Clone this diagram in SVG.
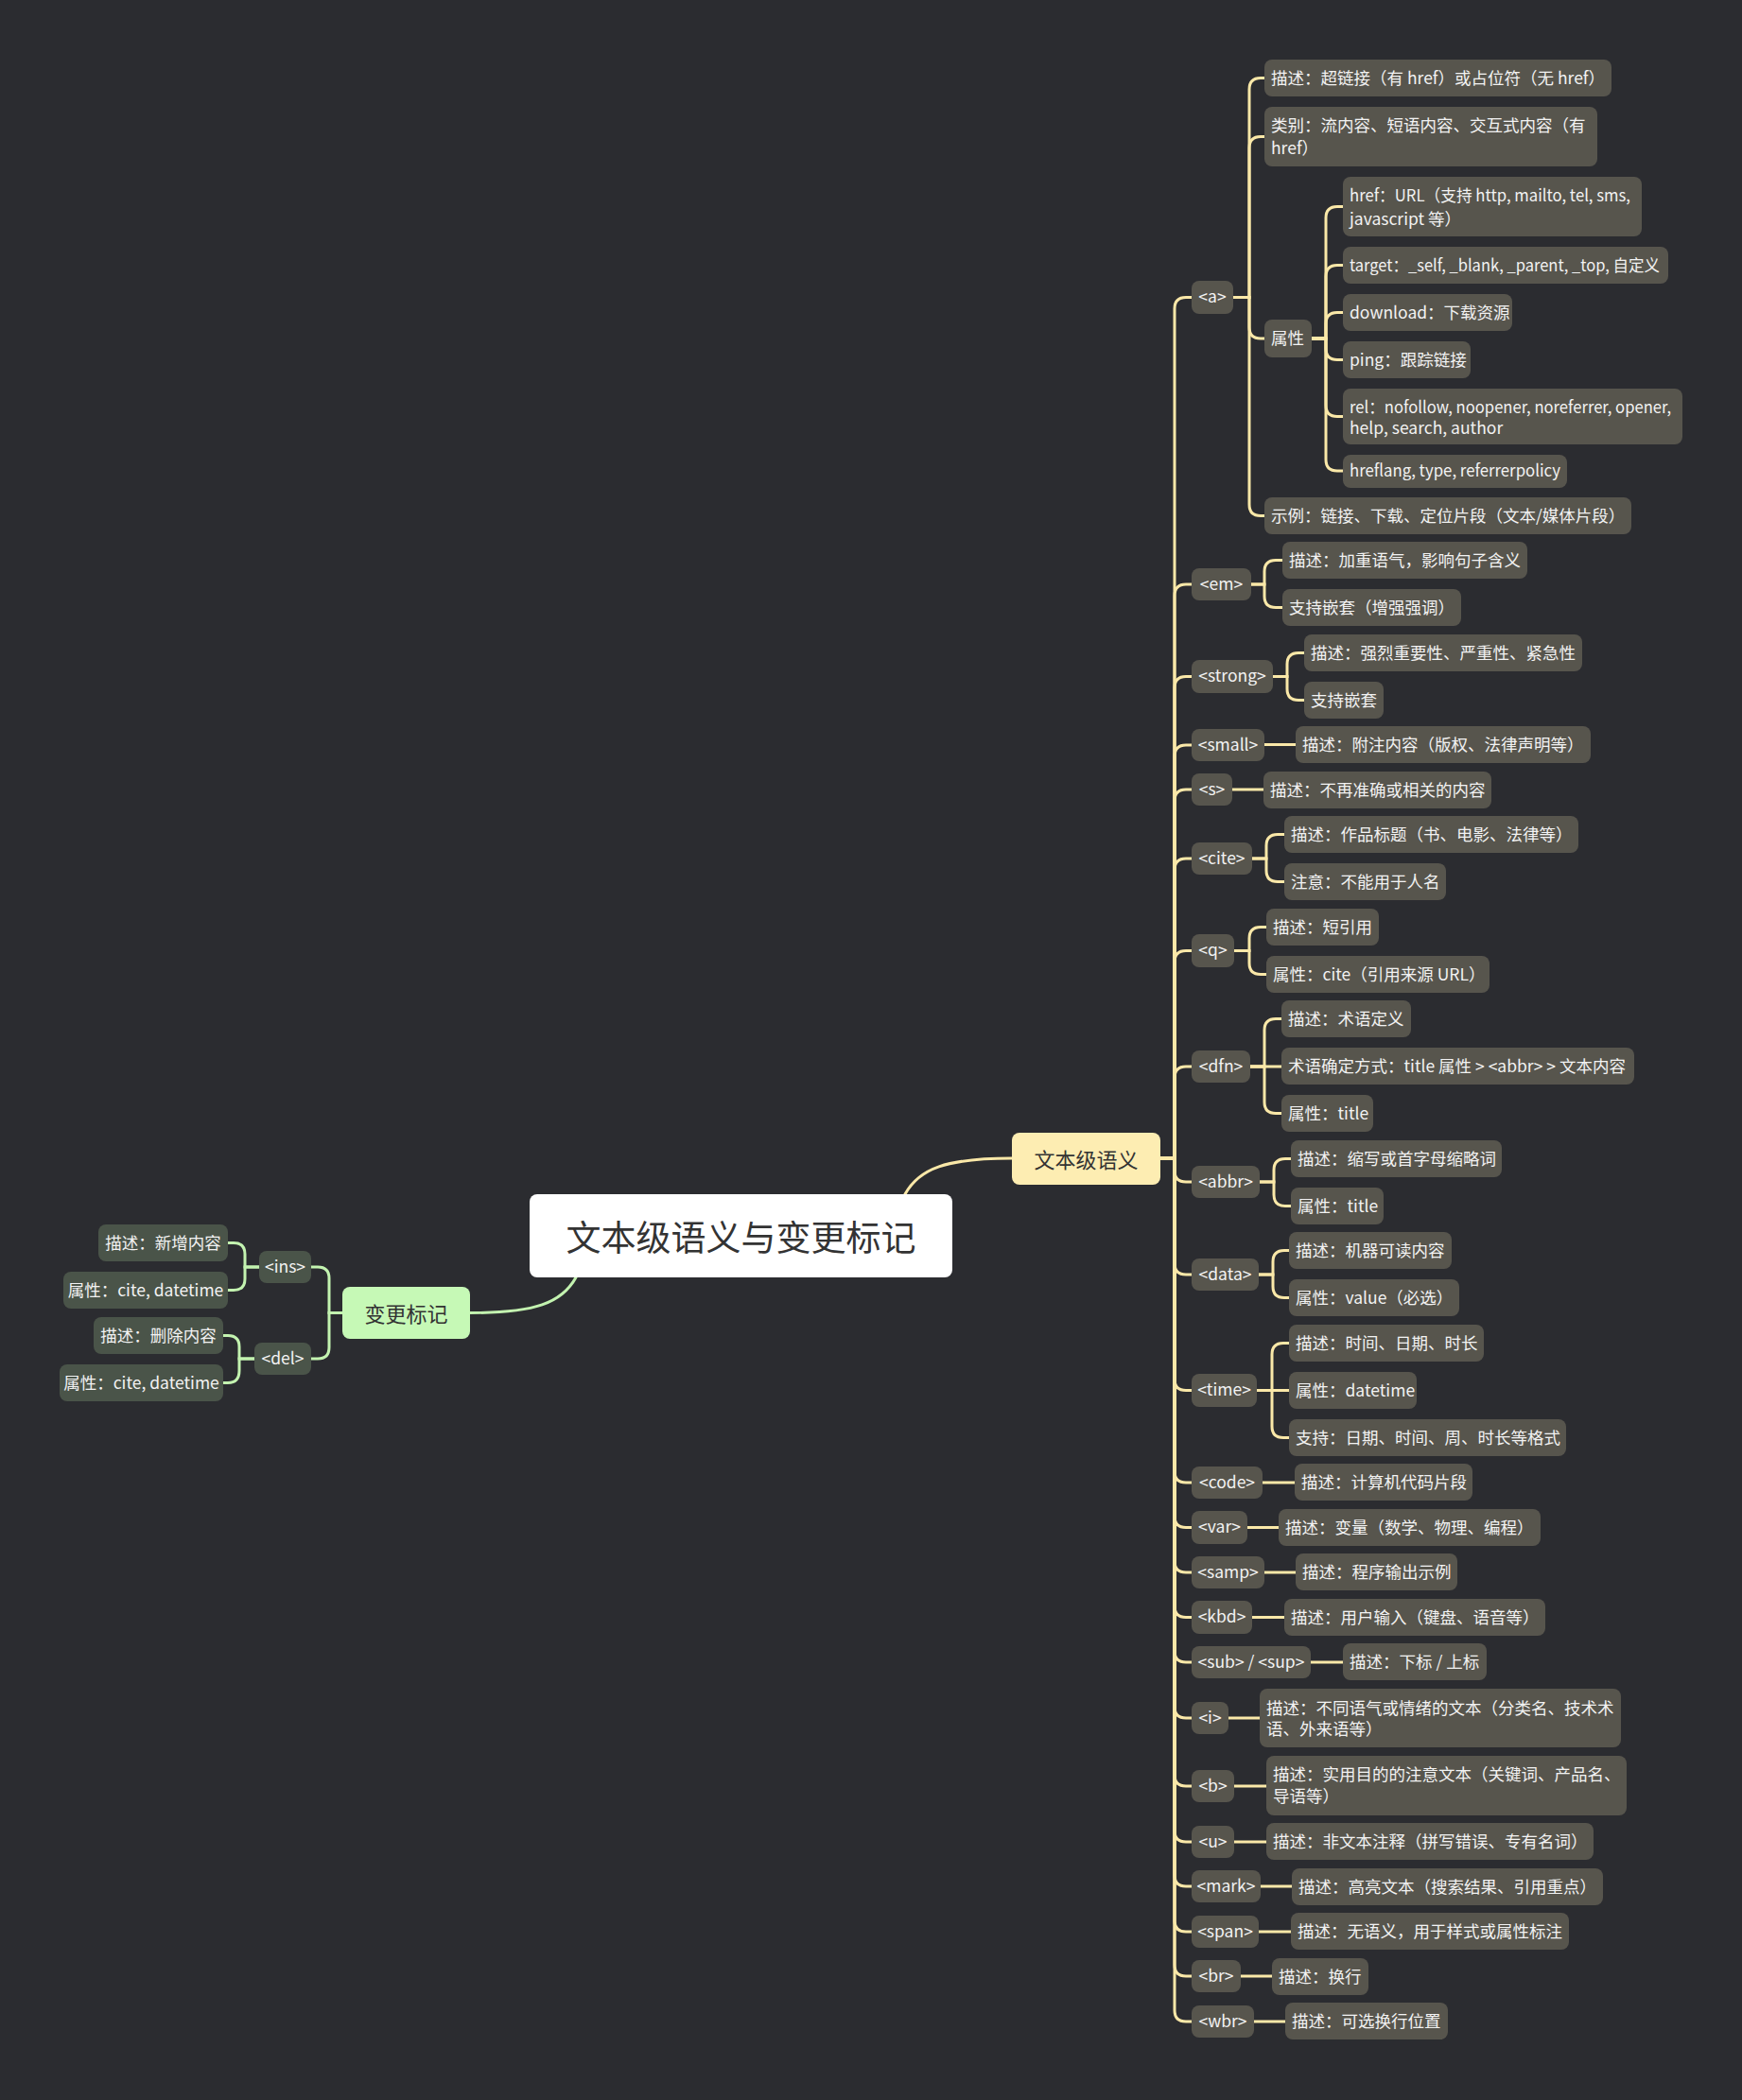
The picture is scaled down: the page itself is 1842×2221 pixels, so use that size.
<svg xmlns="http://www.w3.org/2000/svg" width="1842" height="2221" viewBox="0 0 1842 2221">
<style>
text{font-family:"Noto Sans CJK SC","Noto Sans",sans-serif;}
.n{fill:#57554d;}
.ln{fill:#4a5449;}
.t{fill:#f2f2f2;font-size:17.5px;}
.tg{fill:#f2f2f2;font-size:17.5px;text-anchor:middle;}
.lt{fill:#f2f2f2;font-size:17.5px;text-anchor:middle;}
.cy{fill:none;stroke:#fae8a8;stroke-width:3;stroke-linecap:round;}
.cg{fill:none;stroke:#c3f3b0;stroke-width:3;stroke-linecap:round;}
</style>
<rect x="0" y="0" width="1842" height="2221" fill="#2b2c30"/>
<g id="connectors">
<path class="cy" d="M957 1263 C972 1236 1000 1225 1070 1225" stroke-width="3.5"/>
<path class="cg" d="M609 1351 C594 1378 566 1388.5 497 1388.5" stroke-width="3.5"/>
<path class="cy" d="M1227 1225 H1242 V326.5 Q1242 314.5 1254 314.5 H1260"/>
<path class="cy" d="M1227 1225 H1242 V630 Q1242 618 1254 618 H1260"/>
<path class="cy" d="M1227 1225 H1242 V727.5 Q1242 715.5 1254 715.5 H1260"/>
<path class="cy" d="M1227 1225 H1242 V800 Q1242 788 1254 788 H1260"/>
<path class="cy" d="M1227 1225 H1242 V847 Q1242 835 1254 835 H1260"/>
<path class="cy" d="M1227 1225 H1242 V920 Q1242 908 1254 908 H1260"/>
<path class="cy" d="M1227 1225 H1242 V1017.5 Q1242 1005.5 1254 1005.5 H1260"/>
<path class="cy" d="M1227 1225 H1242 V1140 Q1242 1128 1254 1128 H1260"/>
<path class="cy" d="M1227 1225 H1242 V1238 Q1242 1250 1254 1250 H1260"/>
<path class="cy" d="M1227 1225 H1242 V1336 Q1242 1348 1254 1348 H1260"/>
<path class="cy" d="M1227 1225 H1242 V1458.5 Q1242 1470.5 1254 1470.5 H1260"/>
<path class="cy" d="M1227 1225 H1242 V1556 Q1242 1568 1254 1568 H1260"/>
<path class="cy" d="M1227 1225 H1242 V1603.5 Q1242 1615.5 1254 1615.5 H1260"/>
<path class="cy" d="M1227 1225 H1242 V1651 Q1242 1663 1254 1663 H1260"/>
<path class="cy" d="M1227 1225 H1242 V1698.5 Q1242 1710.5 1254 1710.5 H1260"/>
<path class="cy" d="M1227 1225 H1242 V1746 Q1242 1758 1254 1758 H1260"/>
<path class="cy" d="M1227 1225 H1242 V1805 Q1242 1817 1254 1817 H1260"/>
<path class="cy" d="M1227 1225 H1242 V1877 Q1242 1889 1254 1889 H1260"/>
<path class="cy" d="M1227 1225 H1242 V1936 Q1242 1948 1254 1948 H1260"/>
<path class="cy" d="M1227 1225 H1242 V1983 Q1242 1995 1254 1995 H1260"/>
<path class="cy" d="M1227 1225 H1242 V2031 Q1242 2043 1254 2043 H1260"/>
<path class="cy" d="M1227 1225 H1242 V2078 Q1242 2090 1254 2090 H1260"/>
<path class="cy" d="M1227 1225 H1242 V2126 Q1242 2138 1254 2138 H1260"/>
<path class="cy" d="M1304 314.5 H1321 V94.5 Q1321 82.5 1333 82.5 H1337"/>
<path class="cy" d="M1304 314.5 H1321 V156.5 Q1321 144.5 1333 144.5 H1337"/>
<path class="cy" d="M1304 314.5 H1321 V346 Q1321 358 1333 358 H1337"/>
<path class="cy" d="M1304 314.5 H1321 V533.5 Q1321 545.5 1333 545.5 H1337"/>
<path class="cy" d="M1387 358 H1402 V230.5 Q1402 218.5 1414 218.5 H1420"/>
<path class="cy" d="M1387 358 H1402 V292.5 Q1402 280.5 1414 280.5 H1420"/>
<path class="cy" d="M1387 358 H1402 V342.5 Q1402 330.5 1414 330.5 H1420"/>
<path class="cy" d="M1387 358 H1402 V368.5 Q1402 380.5 1414 380.5 H1420"/>
<path class="cy" d="M1387 358 H1402 V428.5 Q1402 440.5 1414 440.5 H1420"/>
<path class="cy" d="M1387 358 H1402 V486 Q1402 498 1414 498 H1420"/>
<path class="cy" d="M1323 618 H1337 V604.5 Q1337 592.5 1349 592.5 H1356"/>
<path class="cy" d="M1323 618 H1337 V630.5 Q1337 642.5 1349 642.5 H1356"/>
<path class="cy" d="M1346 715.5 H1361 V702.5 Q1361 690.5 1373 690.5 H1379"/>
<path class="cy" d="M1346 715.5 H1361 V728.5 Q1361 740.5 1373 740.5 H1379"/>
<path class="cy" d="M1337 787.5 H1370"/>
<path class="cy" d="M1303 835 H1336"/>
<path class="cy" d="M1324 908 H1339 V894.5 Q1339 882.5 1351 882.5 H1358"/>
<path class="cy" d="M1324 908 H1339 V920.5 Q1339 932.5 1351 932.5 H1358"/>
<path class="cy" d="M1305 1005.5 H1321 V992.5 Q1321 980.5 1333 980.5 H1339"/>
<path class="cy" d="M1305 1005.5 H1321 V1018.5 Q1321 1030.5 1333 1030.5 H1339"/>
<path class="cy" d="M1322 1128 H1337 V1089.5 Q1337 1077.5 1349 1077.5 H1355"/>
<path class="cy" d="M1322 1128 H1355"/>
<path class="cy" d="M1322 1128 H1337 V1165.5 Q1337 1177.5 1349 1177.5 H1355"/>
<path class="cy" d="M1332 1250 H1347 V1237.5 Q1347 1225.5 1359 1225.5 H1365"/>
<path class="cy" d="M1332 1250 H1347 V1263.5 Q1347 1275.5 1359 1275.5 H1365"/>
<path class="cy" d="M1331 1348 H1346 V1334.5 Q1346 1322.5 1358 1322.5 H1363"/>
<path class="cy" d="M1331 1348 H1346 V1360.5 Q1346 1372.5 1358 1372.5 H1363"/>
<path class="cy" d="M1329 1470.5 H1345 V1432.5 Q1345 1420.5 1357 1420.5 H1363"/>
<path class="cy" d="M1329 1470.5 H1363"/>
<path class="cy" d="M1329 1470.5 H1345 V1508.5 Q1345 1520.5 1357 1520.5 H1363"/>
<path class="cy" d="M1335 1568 H1369"/>
<path class="cy" d="M1319 1615.5 H1352"/>
<path class="cy" d="M1337 1663 H1370"/>
<path class="cy" d="M1324 1710.5 H1358"/>
<path class="cy" d="M1386 1758 H1420"/>
<path class="cy" d="M1299 1817 H1332"/>
<path class="cy" d="M1305 1889 H1339"/>
<path class="cy" d="M1305 1948 H1339"/>
<path class="cy" d="M1333 1995 H1366"/>
<path class="cy" d="M1331 2043 H1365"/>
<path class="cy" d="M1312 2090 H1345"/>
<path class="cy" d="M1326 2138 H1359"/>
<path class="cg" d="M362 1388.5 H348 V1352 Q348 1340 336 1340 H329"/>
<path class="cg" d="M362 1388.5 H348 V1425 Q348 1437 336 1437 H329"/>
<path class="cg" d="M274 1340 H259 V1326.5 Q259 1314.5 247 1314.5 H241"/>
<path class="cg" d="M274 1340 H259 V1352.5 Q259 1364.5 247 1364.5 H241"/>
<path class="cg" d="M269 1437 H253 V1424.5 Q253 1412.5 241 1412.5 H236"/>
<path class="cg" d="M269 1437 H253 V1449.5 Q253 1462.5 241 1462.5 H236"/>
</g>
<g id="root"><rect x="560" y="1263" width="447" height="88" rx="8" fill="#ffffff"/><text x="783.5" y="1323" font-size="37" fill="#333333" text-anchor="middle">文本级语义与变更标记</text></g>
<g id="main-text"><rect x="1070" y="1198" width="157" height="55" rx="8" fill="#fdedb2"/><text x="1148.5" y="1235" font-size="22" fill="#333333" text-anchor="middle">文本级语义</text></g>
<g id="main-change"><rect x="362" y="1361" width="135" height="55" rx="8" fill="#c6f9b6"/><text x="429.5" y="1397.5" font-size="22" fill="#333333" text-anchor="middle">变更标记</text></g>
<g id="tag-a"><rect class="n" x="1260" y="297" width="44" height="35" rx="8"/><text class="tg" x="1282" y="320">&lt;a&gt;</text></g>
<g id="a-desc"><rect class="n" x="1337" y="63" width="367" height="39" rx="8"/><text class="t" x="1344" y="88.5">描述：超链接（有 href）或占位符（无 href）</text></g>
<g id="a-cat"><rect class="n" x="1337" y="113" width="352" height="63" rx="8"/><text class="t" x="1344" y="139">类别：流内容、短语内容、交互式内容（有</text><text class="t" x="1344" y="163">href）</text></g>
<g id="a-attr"><rect class="n" x="1337" y="338" width="50" height="40" rx="8"/><text class="t" x="1344" y="364">属性</text></g>
<g id="a-href"><rect class="n" x="1420" y="187" width="316" height="63" rx="8"/><text class="t" x="1427" y="213" textLength="297" lengthAdjust="spacingAndGlyphs">href：URL（支持 http, mailto, tel, sms,</text><text class="t" x="1427" y="238">javascript 等）</text></g>
<g id="a-target"><rect class="n" x="1420" y="261" width="344" height="39" rx="8"/><text class="t" x="1427" y="286.5" textLength="328" lengthAdjust="spacingAndGlyphs">target：_self, _blank, _parent, _top, 自定义</text></g>
<g id="a-download"><rect class="n" x="1420" y="311" width="179" height="39" rx="8"/><text class="t" x="1427" y="336.5">download：下载资源</text></g>
<g id="a-ping"><rect class="n" x="1420" y="361" width="135" height="39" rx="8"/><text class="t" x="1427" y="386.5">ping：跟踪链接</text></g>
<g id="a-rel"><rect class="n" x="1420" y="411" width="359" height="59" rx="8"/><text class="t" x="1427" y="437" font-size="17" textLength="340" lengthAdjust="spacingAndGlyphs">rel：nofollow, noopener, noreferrer, opener,</text><text class="t" x="1427" y="459" font-size="17">help, search, author</text></g>
<g id="a-hreflang"><rect class="n" x="1420" y="481" width="237" height="35" rx="8"/><text class="t" x="1427" y="504" textLength="223" lengthAdjust="spacingAndGlyphs">hreflang, type, referrerpolicy</text></g>
<g id="a-example"><rect class="n" x="1337" y="526" width="388" height="39" rx="8"/><text class="t" x="1344" y="551.5">示例：链接、下载、定位片段（文本/媒体片段）</text></g>
<g id="tag-em"><rect class="n" x="1260" y="601" width="63" height="34" rx="8"/><text class="tg" x="1291.5" y="623.5">&lt;em&gt;</text></g>
<g id="em-1"><rect class="n" x="1356" y="573" width="259" height="39" rx="8"/><text class="t" x="1363" y="598.5">描述：加重语气，影响句子含义</text></g>
<g id="em-2"><rect class="n" x="1356" y="623" width="189" height="39" rx="8"/><text class="t" x="1363" y="648.5">支持嵌套（增强强调）</text></g>
<g id="tag-strong"><rect class="n" x="1260" y="698" width="86" height="35" rx="8"/><text class="tg" x="1303" y="721">&lt;strong&gt;</text></g>
<g id="strong-1"><rect class="n" x="1379" y="671" width="294" height="39" rx="8"/><text class="t" x="1386" y="696.5">描述：强烈重要性、严重性、紧急性</text></g>
<g id="strong-2"><rect class="n" x="1379" y="721" width="84" height="39" rx="8"/><text class="t" x="1386" y="746.5">支持嵌套</text></g>
<g id="tag-small"><rect class="n" x="1260" y="771" width="77" height="34" rx="8"/><text class="tg" x="1298.5" y="793.5">&lt;small&gt;</text></g>
<g id="small-1"><rect class="n" x="1370" y="768" width="312" height="39" rx="8"/><text class="t" x="1377" y="793.5">描述：附注内容（版权、法律声明等）</text></g>
<g id="tag-s"><rect class="n" x="1260" y="818" width="43" height="34" rx="8"/><text class="tg" x="1281.5" y="840.5">&lt;s&gt;</text></g>
<g id="s-1"><rect class="n" x="1336" y="816" width="241" height="39" rx="8"/><text class="t" x="1343" y="841.5">描述：不再准确或相关的内容</text></g>
<g id="tag-cite"><rect class="n" x="1260" y="891" width="64" height="34" rx="8"/><text class="tg" x="1292" y="913.5">&lt;cite&gt;</text></g>
<g id="cite-1"><rect class="n" x="1358" y="863" width="311" height="39" rx="8"/><text class="t" x="1365" y="888.5">描述：作品标题（书、电影、法律等）</text></g>
<g id="cite-2"><rect class="n" x="1358" y="913" width="171" height="39" rx="8"/><text class="t" x="1365" y="938.5">注意：不能用于人名</text></g>
<g id="tag-q"><rect class="n" x="1260" y="988" width="45" height="35" rx="8"/><text class="tg" x="1282.5" y="1011">&lt;q&gt;</text></g>
<g id="q-1"><rect class="n" x="1339" y="961" width="119" height="39" rx="8"/><text class="t" x="1346" y="986.5">描述：短引用</text></g>
<g id="q-2"><rect class="n" x="1339" y="1011" width="236" height="39" rx="8"/><text class="t" x="1346" y="1036.5">属性：cite（引用来源 URL）</text></g>
<g id="tag-dfn"><rect class="n" x="1260" y="1111" width="62" height="34" rx="8"/><text class="tg" x="1291" y="1133.5">&lt;dfn&gt;</text></g>
<g id="dfn-1"><rect class="n" x="1355" y="1058" width="137" height="39" rx="8"/><text class="t" x="1362" y="1083.5">描述：术语定义</text></g>
<g id="dfn-2"><rect class="n" x="1355" y="1108" width="373" height="39" rx="8"/><text class="t" x="1362" y="1133.5">术语确定方式：title 属性 &gt; &lt;abbr&gt; &gt; 文本内容</text></g>
<g id="dfn-3"><rect class="n" x="1355" y="1158" width="97" height="39" rx="8"/><text class="t" x="1362" y="1183.5">属性：title</text></g>
<g id="tag-abbr"><rect class="n" x="1260" y="1233" width="72" height="34" rx="8"/><text class="tg" x="1296" y="1255.5">&lt;abbr&gt;</text></g>
<g id="abbr-1"><rect class="n" x="1365" y="1206" width="223" height="39" rx="8"/><text class="t" x="1372" y="1231.5">描述：缩写或首字母缩略词</text></g>
<g id="abbr-2"><rect class="n" x="1365" y="1256" width="98" height="39" rx="8"/><text class="t" x="1372" y="1281.5">属性：title</text></g>
<g id="tag-data"><rect class="n" x="1260" y="1331" width="71" height="34" rx="8"/><text class="tg" x="1295.5" y="1353.5">&lt;data&gt;</text></g>
<g id="data-1"><rect class="n" x="1363" y="1303" width="172" height="39" rx="8"/><text class="t" x="1370" y="1328.5">描述：机器可读内容</text></g>
<g id="data-2"><rect class="n" x="1363" y="1353" width="180" height="39" rx="8"/><text class="t" x="1370" y="1378.5">属性：value（必选）</text></g>
<g id="tag-time"><rect class="n" x="1260" y="1453" width="69" height="35" rx="8"/><text class="tg" x="1294.5" y="1476">&lt;time&gt;</text></g>
<g id="time-1"><rect class="n" x="1363" y="1401" width="206" height="39" rx="8"/><text class="t" x="1370" y="1426.5">描述：时间、日期、时长</text></g>
<g id="time-2"><rect class="n" x="1363" y="1451" width="135" height="39" rx="8"/><text class="t" x="1370" y="1476.5">属性：datetime</text></g>
<g id="time-3"><rect class="n" x="1363" y="1501" width="293" height="39" rx="8"/><text class="t" x="1370" y="1526.5">支持：日期、时间、周、时长等格式</text></g>
<g id="tag-code"><rect class="n" x="1260" y="1551" width="75" height="34" rx="8"/><text class="tg" x="1297.5" y="1573.5">&lt;code&gt;</text></g>
<g id="code-1"><rect class="n" x="1369" y="1548" width="188" height="39" rx="8"/><text class="t" x="1376" y="1573.5">描述：计算机代码片段</text></g>
<g id="tag-var"><rect class="n" x="1260" y="1598" width="59" height="35" rx="8"/><text class="tg" x="1289.5" y="1621">&lt;var&gt;</text></g>
<g id="var-1"><rect class="n" x="1352" y="1596" width="277" height="39" rx="8"/><text class="t" x="1359" y="1621.5">描述：变量（数学、物理、编程）</text></g>
<g id="tag-samp"><rect class="n" x="1260" y="1646" width="77" height="34" rx="8"/><text class="tg" x="1298.5" y="1668.5">&lt;samp&gt;</text></g>
<g id="samp-1"><rect class="n" x="1370" y="1643" width="171" height="39" rx="8"/><text class="t" x="1377" y="1668.5">描述：程序输出示例</text></g>
<g id="tag-kbd"><rect class="n" x="1260" y="1693" width="64" height="35" rx="8"/><text class="tg" x="1292" y="1716">&lt;kbd&gt;</text></g>
<g id="kbd-1"><rect class="n" x="1358" y="1691" width="276" height="39" rx="8"/><text class="t" x="1365" y="1716.5">描述：用户输入（键盘、语音等）</text></g>
<g id="tag-subsup"><rect class="n" x="1260" y="1741" width="126" height="34" rx="8"/><text class="tg" x="1323" y="1763.5">&lt;sub&gt; / &lt;sup&gt;</text></g>
<g id="subsup-1"><rect class="n" x="1420" y="1738" width="152" height="39" rx="8"/><text class="t" x="1427" y="1763.5">描述：下标 / 上标</text></g>
<g id="tag-i"><rect class="n" x="1260" y="1800" width="39" height="34" rx="8"/><text class="tg" x="1279.5" y="1822.5">&lt;i&gt;</text></g>
<g id="i-1"><rect class="n" x="1332" y="1786" width="382" height="62" rx="8"/><text class="t" x="1339" y="1813">描述：不同语气或情绪的文本（分类名、技术术</text><text class="t" x="1339" y="1835">语、外来语等）</text></g>
<g id="tag-b"><rect class="n" x="1260" y="1872" width="45" height="34" rx="8"/><text class="tg" x="1282.5" y="1894.5">&lt;b&gt;</text></g>
<g id="b-1"><rect class="n" x="1339" y="1857" width="381" height="63" rx="8"/><text class="t" x="1346" y="1883">描述：实用目的的注意文本（关键词、产品名、</text><text class="t" x="1346" y="1906">导语等）</text></g>
<g id="tag-u"><rect class="n" x="1260" y="1931" width="45" height="34" rx="8"/><text class="tg" x="1282.5" y="1953.5">&lt;u&gt;</text></g>
<g id="u-1"><rect class="n" x="1339" y="1928" width="346" height="39" rx="8"/><text class="t" x="1346" y="1953.5">描述：非文本注释（拼写错误、专有名词）</text></g>
<g id="tag-mark"><rect class="n" x="1260" y="1978" width="73" height="34" rx="8"/><text class="tg" x="1296.5" y="2000.5">&lt;mark&gt;</text></g>
<g id="mark-1"><rect class="n" x="1366" y="1976" width="329" height="39" rx="8"/><text class="t" x="1373" y="2001.5">描述：高亮文本（搜索结果、引用重点）</text></g>
<g id="tag-span"><rect class="n" x="1260" y="2026" width="71" height="34" rx="8"/><text class="tg" x="1295.5" y="2048.5">&lt;span&gt;</text></g>
<g id="span-1"><rect class="n" x="1365" y="2023" width="294" height="39" rx="8"/><text class="t" x="1372" y="2048.5">描述：无语义，用于样式或属性标注</text></g>
<g id="tag-br"><rect class="n" x="1260" y="2073" width="52" height="34" rx="8"/><text class="tg" x="1286" y="2095.5">&lt;br&gt;</text></g>
<g id="br-1"><rect class="n" x="1345" y="2071" width="102" height="39" rx="8"/><text class="t" x="1352" y="2096.5">描述：换行</text></g>
<g id="tag-wbr"><rect class="n" x="1260" y="2121" width="66" height="34" rx="8"/><text class="tg" x="1293" y="2143.5">&lt;wbr&gt;</text></g>
<g id="wbr-1"><rect class="n" x="1359" y="2118" width="172" height="39" rx="8"/><text class="t" x="1366" y="2143.5">描述：可选换行位置</text></g>
<g id="tag-ins"><rect class="ln" x="274" y="1323" width="55" height="34" rx="8"/><text class="lt" x="301.5" y="1345.5">&lt;ins&gt;</text></g>
<g id="ins-1"><rect class="ln" x="104" y="1295" width="137" height="39" rx="8"/><text class="lt" x="172.5" y="1320.5">描述：新增内容</text></g>
<g id="ins-2"><rect class="ln" x="67" y="1345" width="174" height="39" rx="8"/><text class="lt" x="154" y="1370.5">属性：cite, datetime</text></g>
<g id="tag-del"><rect class="ln" x="269" y="1420" width="60" height="34" rx="8"/><text class="lt" x="299" y="1442.5">&lt;del&gt;</text></g>
<g id="del-1"><rect class="ln" x="99" y="1393" width="137" height="39" rx="8"/><text class="lt" x="167.5" y="1418.5">描述：删除内容</text></g>
<g id="del-2"><rect class="ln" x="63" y="1443" width="173" height="39" rx="8"/><text class="lt" x="149.5" y="1468.5">属性：cite, datetime</text></g>
</svg>
